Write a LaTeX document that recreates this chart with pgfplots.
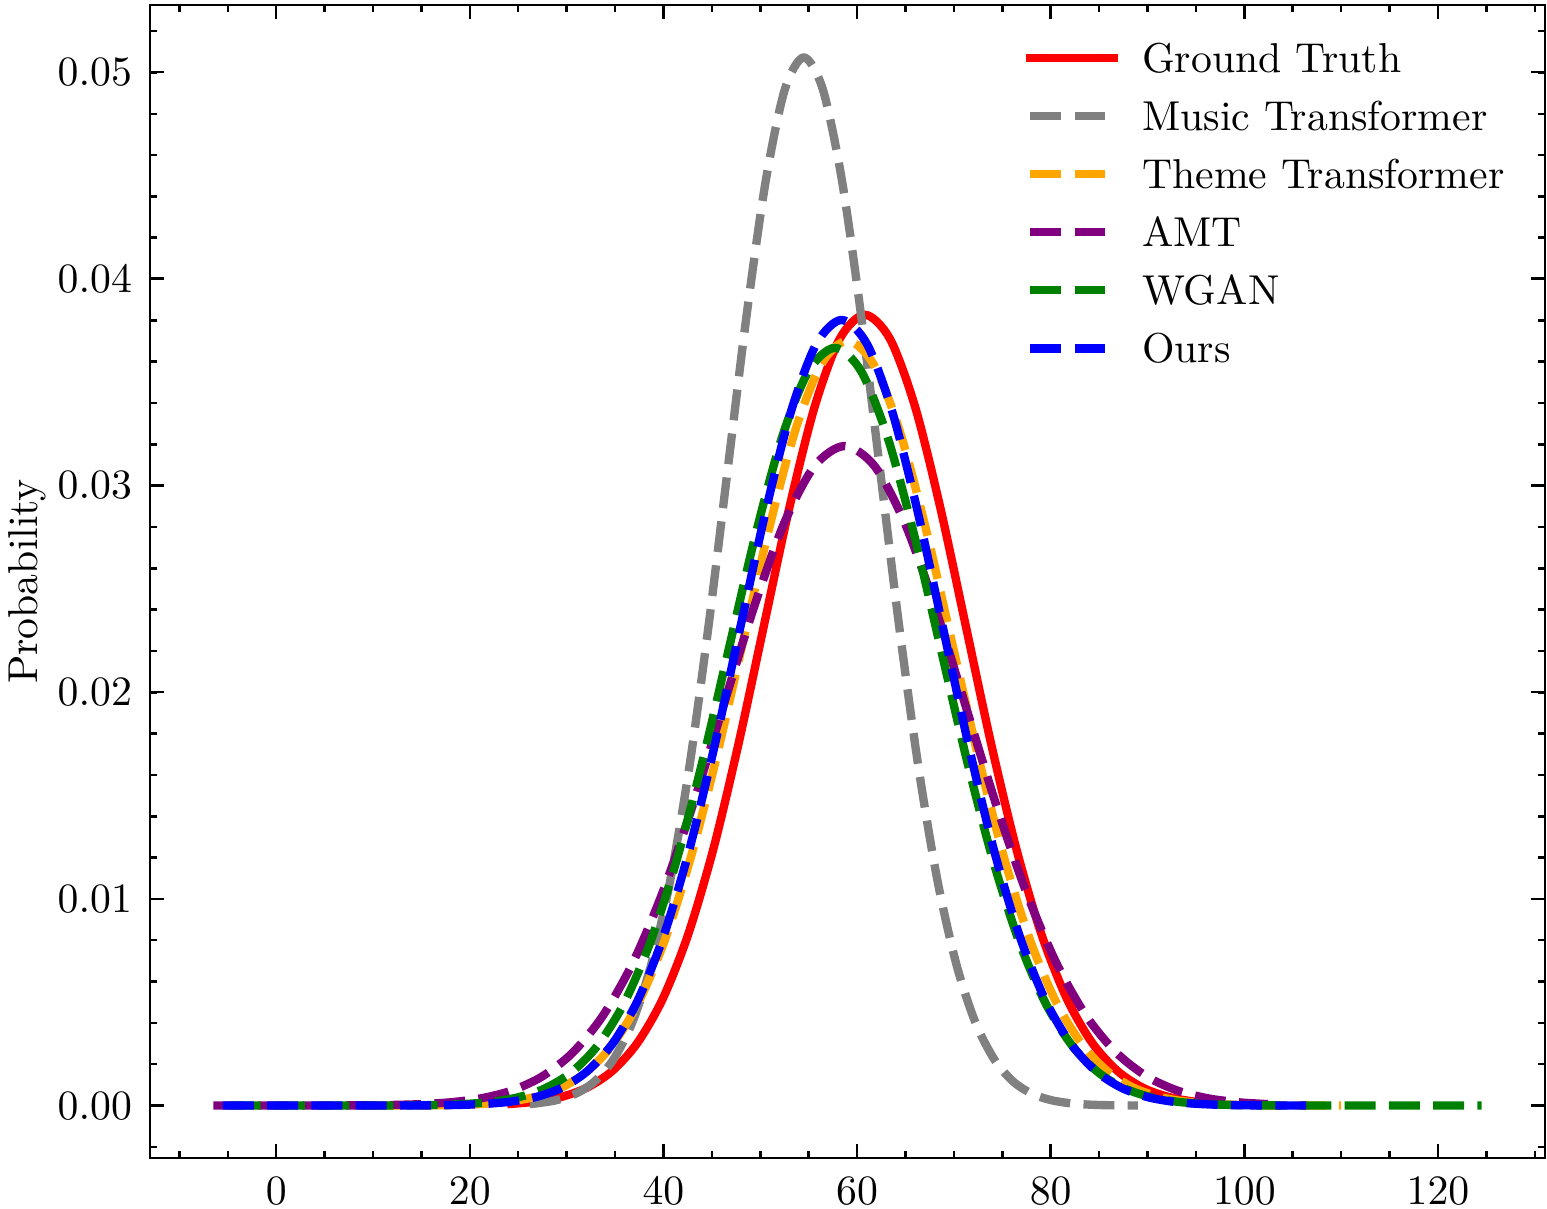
\documentclass[border=0pt]{standalone}
\usepackage{pgfplots}
\pgfplotsset{compat=1.18}
\definecolor{mplgray}{RGB}{128,128,128}
\definecolor{mplorange}{RGB}{255,165,0}
\definecolor{mplpurple}{RGB}{128,0,128}
\definecolor{mplgreen}{RGB}{0,128,0}
\definecolor{mplred}{RGB}{255,0,0}
\definecolor{mplblue}{RGB}{0,0,255}
\begin{document}
\begin{tikzpicture}
\begin{axis}[
  name=ax,
  scale only axis,
  width=334.2pt, height=276.2pt,
  xmin=-13.05, xmax=131.05,
  ymin=-0.002535, ymax=0.053235,
  axis line style={line width=0.6pt},
  tick style={line width=0.6pt, black},
  major tick length=3.3pt, minor tick length=1.6pt,
  tick align=inside,
  xtick pos=both, ytick pos=both,
  xtick={0,20,...,120},
  minor xtick={-10,-5,...,130},
  ytick={0,0.01,0.02,0.03,0.04,0.05},
  minor ytick={-0.002,0,0.002,...,0.052},
  scaled y ticks=false,
  yticklabel style={/pgf/number format/fixed,/pgf/number format/precision=2,/pgf/number format/fixed zerofill, inner sep=0pt, xshift=-4.1pt},
  xticklabel style={inner sep=0pt, yshift=-4.6pt},
  ylabel={Probability},
  every axis y label/.style={at={(axis description cs:-0.0808,0.5)}, rotate=90, anchor=base},
  legend style={draw=none, fill=none, at={(axis description cs:0.6281,0.9665)}, anchor=north west, inner sep=0pt, outer sep=0pt, nodes={inner sep=0pt, text height=7pt, text depth=2pt}, row sep=4.9pt, /tikz/every odd column/.style={column sep=5.8pt}},
  legend cell align=left,
  legend image code/.code={\draw[#1] (0pt,1.0pt) -- (20pt,1.0pt);},
  every axis plot/.append style={line width=2pt, smooth, line join=round},
]
\addplot[mplred, line cap=rect] coordinates {
(24.30,0.0000837) (26.90,0.0001945) (29.51,0.000425) (32.12,0.000872) (34.73,0.001681)
(37.33,0.003043) (39.94,0.005177) (42.55,0.008272) (45.16,0.012418) (47.76,0.017512)
(50.37,0.023200) (52.98,0.028873) (55.59,0.033756) (58.19,0.037073) (60.80,0.038250)
(63.41,0.037073) (66.02,0.033756) (68.62,0.028873) (71.23,0.023200) (73.84,0.017512)
(76.45,0.012418) (79.05,0.008272) (81.66,0.005177) (84.27,0.003043) (86.88,0.001681)
(89.48,0.000872) (92.09,0.000425) (94.70,0.0001945) (96.00,0.000128)
};
\addlegendentry{Ground Truth}
\addplot[mplgray, dash pattern=on 7.4pt off 3.2pt] coordinates {
(26.20,0.0000776) (26.96,0.000111) (28.92,0.000258) (30.89,0.000563) (32.86,0.001155)
(34.83,0.002228) (36.79,0.004034) (38.76,0.006862) (40.73,0.010965) (42.70,0.016460)
(44.66,0.023212) (46.63,0.030751) (48.60,0.038270) (50.57,0.044743) (52.53,0.049140)
(54.50,0.050700) (56.47,0.049140) (58.44,0.044743) (60.40,0.038270) (62.37,0.030751)
(64.34,0.023212) (66.31,0.016460) (68.27,0.010965) (70.24,0.006862) (72.21,0.004034)
(74.18,0.002228) (76.14,0.001155) (78.11,0.000563) (80.08,0.000258) (82.05,0.000111)
(84.01,0.0000448) (85.98,0.0000170) (89.00,0.0000035)
};
\addlegendentry{Music Transformer}
\addplot[mplorange, dash pattern=on 7.4pt off 3.2pt] coordinates {
(10.00,0.0000012) (15.88,0.0000124) (18.58,0.0000327) (21.27,0.0000809) (23.97,0.000188)
(26.66,0.000411) (29.36,0.000843) (32.05,0.001626) (34.75,0.002944) (37.44,0.005008)
(40.14,0.008002) (42.83,0.012012) (45.53,0.016940) (48.22,0.022442) (50.92,0.027929)
(53.61,0.032653) (56.31,0.035862) (59.00,0.037000) (61.70,0.035862) (64.39,0.032653)
(67.09,0.027929) (69.78,0.022442) (72.48,0.016940) (75.17,0.012012) (77.87,0.008002)
(80.56,0.005008) (83.26,0.002944) (85.95,0.001626) (88.65,0.000843) (91.34,0.000411)
(94.04,0.000188) (96.73,0.0000809) (99.43,0.0000327) (102.12,0.0000124) (104.82,0.0000044)
(110.00,0.0000005)
};
\addlegendentry{Theme Transformer}
\addplot[mplpurple, dash pattern=on 7.4pt off 3.2pt] coordinates {
(-6.50,0.0000000) (-3.80,0.0000001) (2.45,0.0000013) (8.70,0.0000107) (11.83,0.0000282)
(14.95,0.0000698) (18.08,0.000162) (21.20,0.000354) (24.33,0.000727) (27.45,0.001402)
(30.58,0.002538) (33.70,0.004317) (36.83,0.006899) (39.95,0.010356) (43.08,0.014605)
(46.20,0.019348) (49.33,0.024079) (52.45,0.028152) (55.58,0.030918) (58.70,0.031900)
(61.83,0.030918) (64.95,0.028152) (68.08,0.024079) (71.20,0.019348) (74.33,0.014605)
(77.45,0.010356) (80.58,0.006899) (83.70,0.004317) (86.83,0.002538) (89.95,0.001402)
(93.08,0.000727) (96.20,0.000354) (99.33,0.000162) (102.45,0.0000698)
};
\addlegendentry{AMT}
\addplot[mplgreen, dash pattern=on 7.4pt off 3.2pt] coordinates {
(-4.80,0.0000000) (3.30,0.0000001) (8.74,0.0000015) (14.18,0.0000123) (16.90,0.0000324)
(19.62,0.0000802) (22.34,0.000186) (25.06,0.000407) (27.78,0.000835) (30.50,0.001610)
(33.22,0.002916) (35.94,0.004960) (38.66,0.007926) (41.38,0.011898) (44.10,0.016779)
(46.82,0.022229) (49.54,0.027665) (52.26,0.032344) (54.98,0.035522) (57.70,0.036650)
(60.42,0.035522) (63.14,0.032344) (65.86,0.027665) (68.58,0.022229) (71.30,0.016779)
(74.02,0.011898) (76.74,0.007926) (79.46,0.004960) (82.18,0.002916) (84.90,0.001610)
(87.62,0.000835) (90.34,0.000407) (93.06,0.000186) (95.78,0.0000802) (98.50,0.0000324)
(101.22,0.0000123) (106.66,0.0000015) (112.10,0.0000001) (124.50,0.0000000)
};
\addlegendentry{WGAN}
\addplot[mplblue, dash pattern=on 7.4pt off 3.2pt] coordinates {
(-5.50,0.0000000) (5.90,0.0000001) (11.15,0.0000015) (16.40,0.0000127) (19.03,0.0000336)
(21.65,0.0000831) (24.28,0.000193) (26.90,0.000422) (29.53,0.000866) (32.15,0.001670)
(34.78,0.003023) (37.40,0.005143) (40.03,0.008218) (42.65,0.012337) (45.28,0.017398)
(47.90,0.023048) (50.53,0.028684) (53.15,0.033535) (55.78,0.036831) (58.40,0.038000)
(61.03,0.036831) (63.65,0.033535) (66.28,0.028684) (68.90,0.023048) (71.53,0.017398)
(74.15,0.012337) (76.78,0.008218) (79.40,0.005143) (82.03,0.003023) (84.65,0.001670)
(87.28,0.000866) (89.90,0.000422) (92.53,0.000193) (95.15,0.0000831) (97.78,0.0000336)
(100.40,0.0000127) (105.65,0.0000015) (106.60,0.0000005)
};
\addlegendentry{Ours}
\end{axis}
\pgfresetboundingbox
\path ([shift={(-35.9pt,-12pt)}]ax.south west) rectangle ([shift={(0.5pt,1.2pt)}]ax.north east);
\end{tikzpicture}
\end{document}
